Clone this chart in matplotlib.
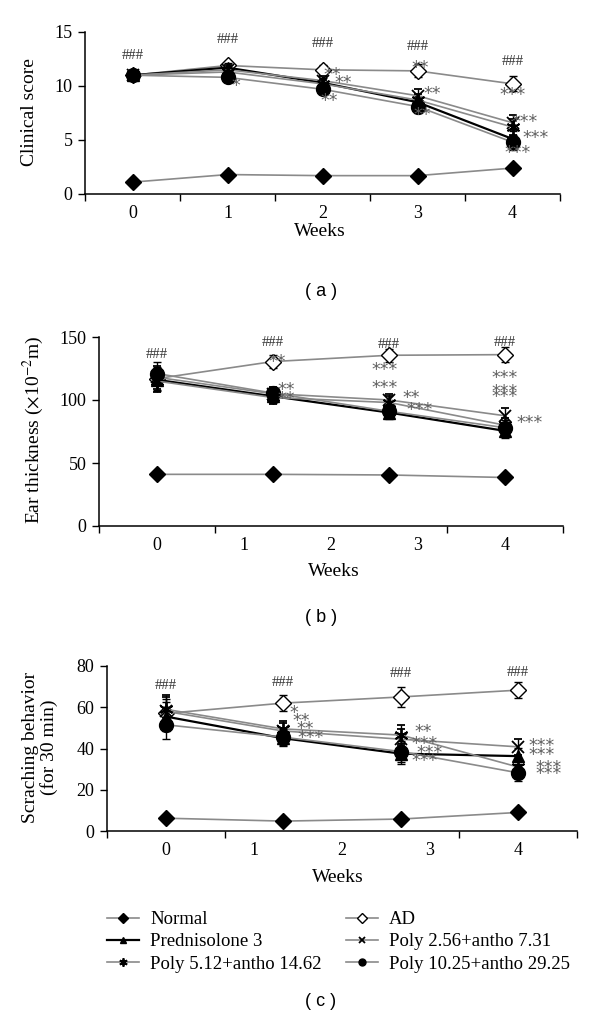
import numpy as np
import matplotlib
matplotlib.use("Agg")
import matplotlib.pyplot as plt
from matplotlib.lines import Line2D

plt.rcParams["font.family"] = ["Liberation Serif", "DejaVu Serif"]
plt.rcParams["mathtext.fontset"] = "stix"

# ---- data ----
series_names = [
    "Normal",
    "AD",
    "Prednisolone 3",
    "Poly 2.56+antho 7.31",
    "Poly 5.12+antho 14.62",
    "Poly 10.25+antho 29.25",
]

# (a) clinical score, weeks 0-4
weeks_a = [0, 1, 2, 3, 4]
score_normal = [1.1, 1.8, 1.7, 1.7, 2.4]
score_ad = [11.0, 11.9, 11.5, 11.4, 10.2]
score_pred = [11.0, 11.7, 10.3, 8.5, 5.1]
score_p256 = [11.0, 11.5, 10.5, 9.1, 6.6]
score_p512 = [11.0, 11.3, 10.2, 8.7, 6.2]
score_p1025 = [11.0, 10.8, 9.7, 8.1, 4.8]
score_err = [0.4, 0.4, 0.4, 0.6, 0.7]

# (b) ear thickness, 4 time points
weeks_bc = [0, 1.33, 2.67, 4]
ear_normal = [41, 41, 40.5, 38.5]
ear_ad = [117, 130.5, 135.5, 136]
ear_pred = [116, 103, 90, 75.5]
ear_p256 = [118, 105, 100, 87.5]
ear_p512 = [115, 102, 98, 80]
ear_p1025 = [121, 105.5, 91, 78]
ear_err = [9, 5, 5, 6]

# (c) scratching behavior
scratch_normal = [6.2, 4.8, 5.8, 9.0]
scratch_ad = [57, 62, 65, 68.3]
scratch_pred = [55.5, 45, 37.5, 36.3]
scratch_p256 = [58, 48.5, 44.5, 40.8]
scratch_p512 = [59, 49.5, 46.5, 31]
scratch_p1025 = [51.5, 45.5, 38.5, 28.2]
scratch_err = [7, 4, 5, 4]

# significance marks (x, y, text)
marks_a = [
    (0, 12.8, "###"), (1, 14.3, "###"), (2, 13.9, "###"), (3, 13.7, "###"), (4, 12.3, "###"),
    (1.09, 10.0, "*"),
    (2.1, 11.0, "**"), (2.22, 10.3, "**"), (2.07, 8.6, "**"),
    (3.03, 11.7, "**"), (3.15, 9.3, "**"), (3.05, 7.3, "**"),
    (4.0, 9.2, "***"), (4.13, 6.7, "***"), (4.24, 5.2, "***"), (4.05, 3.8, "***"),
]
marks_b = [
    (0, 136.5, "###"), (1.33, 145.5, "###"), (2.67, 144, "###"), (4, 145.5, "###"),
    (1.38, 130.5, "**"), (1.49, 108, "**"), (1.49, 101, "**"),
    (2.62, 123.5, "***"), (2.62, 109.5, "***"), (2.92, 101.5, "**"), (3.02, 92, "***"),
    (4.0, 117.5, "***"), (4.0, 106, "***"), (4.0, 102.5, "***"), (4.28, 81.5, "***"),
]
marks_c = [
    (0, 70.5, "###"), (1.33, 72.2, "###"), (2.67, 76.2, "###"), (4, 76.7, "###"),
    (1.45, 57, "*"), (1.54, 53.5, "**"), (1.58, 49.5, "**"), (1.64, 45, "***"),
    (2.92, 48, "**"), (2.94, 42, "***"), (2.99, 38, "***"), (2.94, 34, "***"),
    (4.27, 41, "***"), (4.27, 37, "***"), (4.35, 30.5, "***"), (4.35, 27.8, "***"),
]

GRAY = "#8a8a8a"
styles = [
    dict(color=GRAY, marker="D", mfc="black", mec="black", ms=8, lw=1.2),
    dict(color=GRAY, marker="D", mfc="white", mec="black", ms=8, lw=1.2),
    dict(color="black", marker="^", mfc="black", mec="black", ms=9, lw=1.6),
    dict(color=GRAY, marker="x", mfc="black", mec="black", ms=9, mew=1.3, lw=1.2),
    dict(color=GRAY, marker=(6, 2, 0), mfc="black", mec="black", ms=10, mew=1.3, lw=1.2),
    dict(color=GRAY, marker="o", mfc="black", mec="black", ms=10, lw=1.2),
]


def draw_panel(ax, x, values, err, marks, ylim, yticks, xticks_minor):
    for i, (vals, st) in enumerate(zip(values, styles)):
        e = None if i == 0 else err
        ax.errorbar(x, vals, yerr=e, ecolor="black", elinewidth=1.0, capsize=3,
                    capthick=1.0, zorder=3 + i, **st)
    for mx, my, txt in marks:
        if txt == "###":
            ax.text(mx, my, txt, ha="center", va="center", fontsize=10.5, color="#333333",
                    zorder=20)
        else:
            ax.text(mx, my, txt, ha="center", va="center", fontsize=12.5, color="#606060",
                    family="DejaVu Sans", zorder=20)
    ax.set_ylim(*ylim)
    ax.set_yticks(yticks)
    ax.set_xlim(xticks_minor[0], xticks_minor[-1])
    ax.set_xticks([0, 1, 2, 3, 4])
    ax.set_xticks(xticks_minor, minor=True)
    ax.tick_params(axis="x", which="major", length=0, pad=8, labelsize=13)
    ax.tick_params(axis="x", which="minor", length=5, width=1, direction="out")
    ax.tick_params(axis="y", length=5, width=1, direction="out", pad=4, labelsize=13)
    for s in ["top", "right"]:
        ax.spines[s].set_visible(False)
    for s in ["left", "bottom"]:
        ax.spines[s].set_linewidth(1.1)


fig = plt.figure(figsize=(6, 10.26), dpi=100)

ax_a = fig.add_axes([85 / 600, 1 - 194 / 1026, (560 - 85) / 600, 162 / 1026])
ax_b = fig.add_axes([99 / 600, 1 - 526 / 1026, (563 - 99) / 600, 189 / 1026])
ax_c = fig.add_axes([107 / 600, 1 - 831 / 1026, (577 - 107) / 600, 165 / 1026])

draw_panel(ax_a, weeks_a,
           [score_normal, score_ad, score_pred, score_p256, score_p512, score_p1025],
           score_err, marks_a, (0, 15), [0, 5, 10, 15],
           [-0.5, 0.5, 1.5, 2.5, 3.5, 4.5])
draw_panel(ax_b, weeks_bc,
           [ear_normal, ear_ad, ear_pred, ear_p256, ear_p512, ear_p1025],
           ear_err, marks_b, (0, 150), [0, 50, 100, 150],
           [-2 / 3, 2 / 3, 2, 10 / 3, 14 / 3])
draw_panel(ax_c, weeks_bc,
           [scratch_normal, scratch_ad, scratch_pred, scratch_p256, scratch_p512, scratch_p1025],
           scratch_err, marks_c, (0, 80), [0, 20, 40, 60, 80],
           [-2 / 3, 2 / 3, 2, 10 / 3, 14 / 3])

# axis titles
fig.text(30 / 600, 1 - 112 / 1026, "Clinical score", rotation=90, ha="center", va="center", fontsize=14)
fig.text(33 / 600, 1 - 430 / 1026, r"Ear thickness ($\times$10$^{-2}$m)", rotation=90,
         ha="center", va="center", fontsize=14)
fig.text(40 / 600, 1 - 747 / 1026, "Scraching behavior\n(for 30 min)", rotation=90,
         ha="center", va="center", fontsize=14, linespacing=1.05)
for yy, xx in [(232, 320), (571, 334), (878, 338)]:
    fig.text(xx / 600, 1 - yy / 1026, "Weeks", ha="center", va="center", fontsize=14)

for yy, lab in [(292, "( a )"), (618, "( b )"), (1002, "( c )")]:
    fig.text(321 / 600, 1 - yy / 1026, lab, ha="center", va="center", fontsize=13,
             family="Liberation Sans")

# legend
handles = []
for st in styles:
    h = dict(st)
    h["ms"] = 5 if h["marker"] != (6, 2, 0) else 6
    handles.append(Line2D([], [], **h))
order = [0, 2, 4, 1, 3, 5]
fig.legend([handles[i] for i in order], [series_names[i] for i in order],
           ncol=2, frameon=False, loc="upper left",
           bbox_to_anchor=(107 / 600, 1 - 911 / 1026), borderaxespad=0, borderpad=0,
           fontsize=13.5, handlelength=1.7, handletextpad=0.6, columnspacing=1.3,
           labelspacing=0.28)

fig.savefig("out.png", dpi=100)
